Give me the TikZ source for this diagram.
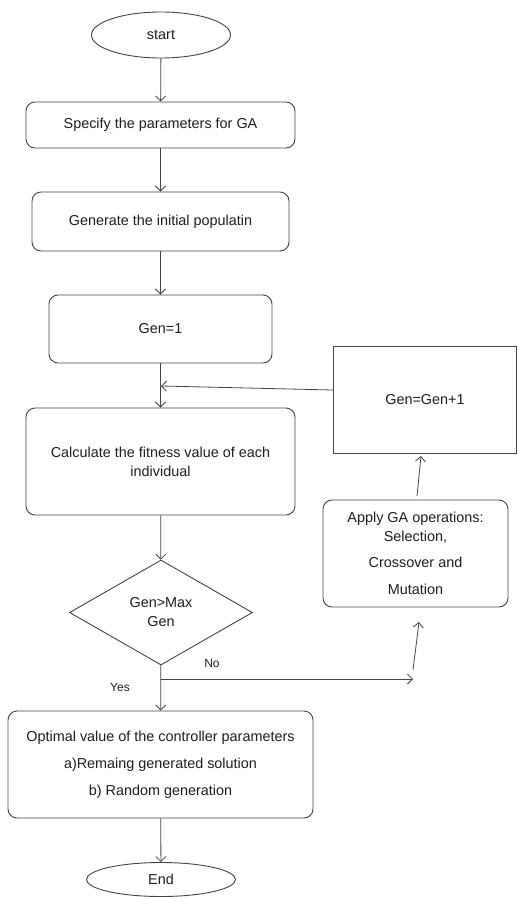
\documentclass[tikz,border=0pt]{standalone}
\usepackage{fontspec}
\setmainfont{Liberation Sans}
\usetikzlibrary{shapes.geometric,arrows.meta}
\definecolor{ln}{HTML}{444444}
\definecolor{tx}{HTML}{1E1E1E}
\begin{document}
\begin{tikzpicture}[x=1pt,y=-1pt,
 every node/.style={text=tx, font=\fontsize{14.4}{19}\selectfont},
 box/.style={draw=ln, line width=0.9pt, rounded corners=9pt, align=center, inner sep=0pt},
 sqbox/.style={draw=ln, line width=0.9pt, align=center, inner sep=0pt},
 term/.style={draw=ln, line width=0.9pt, ellipse, inner sep=0pt},
 dec/.style={draw=ln, line width=0.9pt, diamond, aspect=1.74, inner sep=0pt, align=center},
 arr/.style={draw=ln, line width=0.8pt, -{Straight Barb[length=5pt,width=10pt]}},
 lbl/.style={font=\fontsize{12}{14}\selectfont, inner sep=0pt},
]
\useasboundingbox (0,0) rectangle (517,897);
\fill[white] (0,0) rectangle (517,897);

\node[term, minimum width=139pt, minimum height=46pt] (start) at (161,35) {start};
\node[box, minimum width=269pt, minimum height=46pt] (spec) at (160.5,125) {Specify the parameters for GA};
\node[box, minimum width=257pt, minimum height=59pt] (init) at (160.5,221.5) {Generate the initial populatin};
\node[box, minimum width=223pt, minimum height=68pt] (gen1) at (160.5,329) {Gen=1};
\node[box, minimum width=269pt, minimum height=107pt] (calc) at (160.5,461.5) {Calculate the fitness value of each\\individual};
\node[dec, minimum width=183pt, minimum height=105pt] (cond) at (161,612.5) {Gen>Max\\Gen};
\node[box, minimum width=305pt, minimum height=107pt] (opt) at (160.5,764.5) {Optimal value of the controller parameters\\[8pt]a)Remaing generated solution\\[8pt]b) Random generation};
\node[term, minimum width=149pt, minimum height=34pt] (end) at (161,879.5) {End};

\node[sqbox, minimum width=183pt, minimum height=107pt] (inc) at (425,399.5) {Gen=Gen+1};
\node[box, minimum width=185pt, minimum height=107pt] (ops) at (415.5,553.5) {Apply GA operations:\\Selection,\\[7pt]Crossover and\\[8pt]Mutation};

\coordinate (join) at (161,386);
\coordinate (split) at (161,679);
\coordinate (noend) at (413,679);
\coordinate (upstart) at (413,670);
\coordinate (uptip) at (419,622);
\coordinate (opsout) at (417,496);
\coordinate (inctip) at (421,456);
\coordinate (incin) at (333,390);

\draw[arr] (start) -- (spec);
\draw[arr] (spec) -- (init);
\draw[arr] (init) -- (gen1);
\draw[arr] (gen1) -- (calc);
\draw[arr] (incin) -- (join);
\draw[arr] (calc) -- (cond);
\draw[arr] (cond) -- (opt);
\draw[arr] (opt) -- (end);
\draw[arr] (split) -- (noend);
\draw[arr] (upstart) -- (uptip);
\draw[arr] (opsout) -- (inctip);

\node[lbl] (no) at (212,663) {No};
\node[lbl] (yes) at (120,687) {Yes};
\end{tikzpicture}
\end{document}
